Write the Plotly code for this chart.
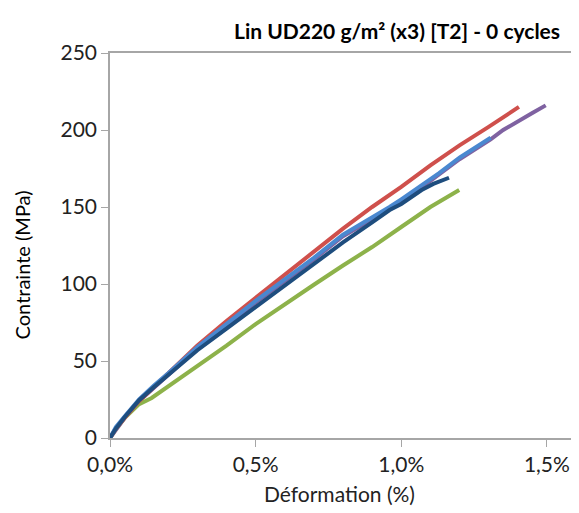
import plotly.graph_objects as go

# strain (%) / stress (MPa)
red_strain = [0, 0.02, 0.05, 0.1, 0.15, 0.2, 0.3, 0.4, 0.5, 0.6, 0.7, 0.8, 0.9, 1.0, 1.1, 1.2, 1.3, 1.35, 1.404]
red_stress = [0, 6, 13, 24, 33, 42, 60, 76, 91, 106, 121, 136, 150, 163, 177, 190, 202, 208, 215]

purple_strain = [0, 0.05, 0.1, 0.2, 0.3, 0.4, 0.5, 0.6, 0.7, 0.8, 0.9, 1.0, 1.1, 1.2, 1.307, 1.35, 1.415, 1.45, 1.496]
purple_stress = [0, 13, 24, 41, 58, 73, 88, 102, 116, 131, 142, 154, 167, 181, 194, 200, 207.5, 211, 216]

lblue_strain = [0, 0.02, 0.05, 0.1, 0.15, 0.2, 0.3, 0.4, 0.5, 0.6, 0.7, 0.8, 0.9, 0.96, 1.0, 1.1, 1.13, 1.2, 1.307]
lblue_stress = [0, 7, 14, 25, 34, 42, 59, 74, 89, 103, 117, 132, 143, 150, 155, 168, 172, 182, 195]

dblue_strain = [0, 0.02, 0.05, 0.1, 0.15, 0.2, 0.3, 0.4, 0.5, 0.6, 0.7, 0.8, 0.9, 0.96, 1.0, 1.07, 1.11, 1.164]
dblue_stress = [0, 6, 13.5, 24.5, 33, 41, 57, 71, 85, 99, 113, 127, 140, 148, 152, 161, 165, 169]

green_strain = [0, 0.02, 0.05, 0.1, 0.143, 0.2, 0.3, 0.4, 0.5, 0.6, 0.7, 0.8, 0.9, 1.0, 1.1, 1.199]
green_stress = [0, 6, 13, 22, 26, 33.5, 47, 60, 74, 87, 99.5, 112, 124, 137, 150, 161]

x_ticks = [0, 0.005, 0.01, 0.015]
y_ticks = [0, 50, 100, 150, 200, 250]

series = [
    (purple_strain, purple_stress, "#7F62A1"),
    (green_strain, green_stress, "#8DB24A"),
    (red_strain, red_stress, "#CF504C"),
    (lblue_strain, lblue_stress, "#4A88D0"),
    (dblue_strain, dblue_stress, "#1E4D7E"),
]

fig = go.Figure()
for xs, ys, col in series:
    fig.add_trace(go.Scatter(x=[v / 100 for v in xs], y=ys, mode="lines",
                             line=dict(color=col, width=4), showlegend=False))

font = "Lato, Calibri, sans-serif"
axis_style = dict(showline=True, linecolor="#A6A6A6", linewidth=1.5, mirror=True,
                  showgrid=False, zeroline=False, ticks="outside", ticklen=7,
                  tickcolor="#A6A6A6", tickfont=dict(family=font, size=21, color="#222"))

# page body has an 8px margin, so the figure is a bit smaller than the window
fig.update_layout(
    width=571, height=505,
    margin=dict(l=102, r=1, t=45, b=75),
    plot_bgcolor="white", paper_bgcolor="white",
    separators=", ",
    xaxis=dict(range=[0, 0.016], tickvals=x_ticks, tickformat=".1%", **axis_style),
    yaxis=dict(range=[0, 250], tickvals=y_ticks, **axis_style),
    annotations=[
        dict(text="<b>Lin UD220 g/m² (x3) [T2] - 0 cycles</b>", xref="paper", yref="paper",
             x=(398 - 110) / 468, y=1 + 23 / 385, showarrow=False, xanchor="center", yanchor="middle",
             font=dict(family=font, size=21, color="black")),
        dict(text="Contrainte (MPa)", xref="paper", yref="paper", textangle=-90,
             x=-(110 - 22) / 468, y=(438 - 265) / 385, showarrow=False, xanchor="center", yanchor="middle",
             font=dict(family=font, size=20, color="black")),
        dict(text="Déformation (%)", xref="paper", yref="paper",
             x=(340 - 110) / 468, y=-(493 - 438) / 385, showarrow=False, xanchor="center", yanchor="middle",
             font=dict(family=font, size=21, color="#222")),
    ],
)

fig.write_html("out.html")
